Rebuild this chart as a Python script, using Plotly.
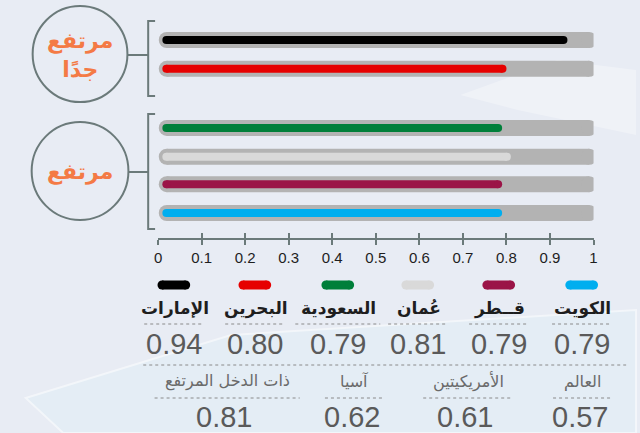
import plotly.graph_objects as go

W, H = 640, 433

# data
countries = ["الإمارات", "البحرين", "السعودية", "عُمان", "قــطر", "الكويت"]
values = [0.94, 0.80, 0.79, 0.81, 0.79, 0.79]
bar_colors = ["#000000", "#e60000", "#007f3a", "#d9d9d9", "#9b1447", "#00aeef"]
groups = ["مرتفع<br>جدًا", "مرتفع"]
regions = ["ذات الدخل المرتفع", "آسيا", "الأمريكيتين", "العالم"]
region_values = [0.81, 0.62, 0.61, 0.57]
ticks = [0, 0.1, 0.2, 0.3, 0.4, 0.5, 0.6, 0.7, 0.8, 0.9, 1]
tick_text = ["0", "0.1", "0.2", "0.3", "0.4", "0.5", "0.6", "0.7", "0.8", "0.9", "1"]

# layout (pixel positions)
rows = [0, 1, 3.05, 4.05, 5, 6]
ROW_PX, ROW0_PX, AXIS_PX = 28.83, 40, 238
X0_PX, X1_PX = 156, 597
col_x = [172, 254, 338, 419, 501, 585]
col_w = [60, 60, 86, 60, 60, 60]
reg_x = [226, 355, 470, 586]
reg_w = [147, 60, 91, 60]

TRACK = "#b3b3b3"
LINE = "#6b7a7a"
ORANGE = "#f47a45"
TEXT = "#1e1e1e"
NUM = "#5a5a5a"
AR = "DejaVu Sans"
LAT = "Liberation Sans"

cap = 4 / (X1_PX - X0_PX)  # half of bar thickness in data units


def pp(pts):
    """pixel points -> paper-coordinate svg path"""
    return "M" + " L".join(f"{x / W:.4f},{1 - y / H:.4f}" for x, y in pts) + " Z"


fig = go.Figure()

# tracks + bars
for r, v, c in zip(rows, values, bar_colors):
    fig.add_trace(go.Scatter(
        x=[0.02, 0.99], y=[r, r], mode="lines+markers",
        line=dict(color=TRACK, width=16), marker=dict(color=TRACK, size=16),
        hoverinfo="skip", showlegend=False))
    fig.add_trace(go.Scatter(
        x=[0.01 + cap, v - cap], y=[r, r], mode="lines+markers",
        line=dict(color=c, width=8), marker=dict(color=c, size=8),
        hoverinfo="skip", showlegend=False))

# legend pills on pixel canvas
for cx, c in zip(col_x, bar_colors):
    fig.add_trace(go.Scatter(
        x=[cx - 12, cx + 12], y=[285, 285], mode="lines+markers",
        line=dict(color=c, width=9), marker=dict(color=c, size=9),
        xaxis="x2", yaxis="y2", hoverinfo="skip", showlegend=False))

# second axis copy for upward ticks
fig.add_trace(go.Scatter(x=[], y=[], xaxis="x3", yaxis="y", showlegend=False))

shapes = []
ann = []

# faint background decoration (paper refs so it sits under everything)
shapes.append(dict(type="path", xref="paper", yref="paper", layer="below",
                   path=pp([(22, 398), (230, 335), (640, 310), (640, 433), (60, 433)]),
                   fillcolor="rgba(220,240,246,0.35)",
                   line=dict(color="rgba(255,255,255,0.5)", width=2)))
shapes.append(dict(type="path", xref="paper", yref="paper", layer="below",
                   path=pp([(462, 95), (560, 60), (640, 70), (640, 135), (520, 110)]),
                   fillcolor="rgba(255,255,255,0.3)", line=dict(width=0)))

# circles, connectors, brackets
for (cy, r, by0, by1), g in zip([(54, 48, 21, 96), (171, 49, 114, 229)], groups):
    shapes.append(dict(type="circle", xref="x2", yref="y2", x0=77 - r, x1=77 + r,
                       y0=cy - r, y1=cy + r, line=dict(color=LINE, width=2)))
    shapes.append(dict(type="line", xref="x2", yref="y2", x0=77 + r, x1=146,
                       y0=cy + 1, y1=cy + 1, line=dict(color=LINE, width=2)))
    shapes.append(dict(type="path", xref="x2", yref="y2",
                       path=f"M153,{by0} L146,{by0} L146,{by1} L153,{by1}",
                       line=dict(color=LINE, width=2)))
    ann.append(dict(xref="x2", yref="y2", x=77, y=cy + 1, text=g, showarrow=False,
                    font=dict(family=AR, size=22, color=ORANGE, weight="bold")))

# country labels + values
for cx, w, name, v in zip(col_x, col_w, countries, values):
    ann.append(dict(xref="x2", yref="y2", x=cx + 1, y=308, text=name, showarrow=False,
                    font=dict(family=AR, size=17, color=TEXT, weight="bold")))
    shapes.append(dict(type="line", xref="x2", yref="y2", x0=cx - w / 2, x1=cx + w / 2,
                       y0=324, y1=324, line=dict(color="#8a8a8a", width=1, dash="dot")))
    ann.append(dict(xref="x2", yref="y2", x=cx, y=344, text=f"{v:.2f}", showarrow=False,
                    font=dict(family=LAT, size=29, color=NUM)))

shapes.append(dict(type="line", xref="x2", yref="y2", x0=141, x1=630, y0=365, y1=365,
                   line=dict(color="#8a8a8a", width=1, dash="dot")))

for cx, w, name, v in zip(reg_x, reg_w, regions, region_values):
    ann.append(dict(xref="x2", yref="y2", x=cx, y=381, text=name, showarrow=False,
                    font=dict(family=AR, size=16, color="#6a6a6a")))
    shapes.append(dict(type="line", xref="x2", yref="y2", x0=cx - w / 2, x1=cx + w / 2,
                       y0=398, y1=398, line=dict(color="#8a8a8a", width=1, dash="dot")))
    ann.append(dict(xref="x2", yref="y2", x=cx - 3, y=417, text=f"{v:.2f}", showarrow=False,
                    font=dict(family=LAT, size=29, color=NUM)))

dom_x = [X0_PX / W, X1_PX / W]
y_top = -ROW0_PX / ROW_PX
y_bot = (AXIS_PX - ROW0_PX) / ROW_PX

fig.update_layout(
    width=W, height=H,
    margin=dict(l=0, r=0, t=0, b=0),
    paper_bgcolor="#e8ecf4", plot_bgcolor="rgba(0,0,0,0)",
    shapes=shapes, annotations=ann,
    xaxis=dict(domain=dom_x, range=[0, 1], anchor="y", showgrid=False, zeroline=False,
               showline=True, linecolor=LINE, linewidth=2,
               ticks="outside", ticklen=5, tickwidth=2, tickcolor=LINE,
               tickvals=ticks, ticktext=tick_text,
               tickfont=dict(family=LAT, size=15, color=TEXT)),
    xaxis3=dict(domain=dom_x, range=[0, 1], anchor="y", overlaying="x", showgrid=False,
                zeroline=False, ticks="inside", ticklen=5, tickwidth=2, tickcolor=LINE,
                tickvals=ticks, showticklabels=False),
    yaxis=dict(domain=[1 - AXIS_PX / H, 1], range=[y_bot, y_top], visible=False),
    xaxis2=dict(domain=[0, 1], range=[0, W], anchor="y2", visible=False),
    yaxis2=dict(domain=[0, 1], range=[H, 0], anchor="x2", visible=False),
)

fig.write_html("out.html", config={"displayModeBar": False},
               post_script="document.body.style.margin='0';")
